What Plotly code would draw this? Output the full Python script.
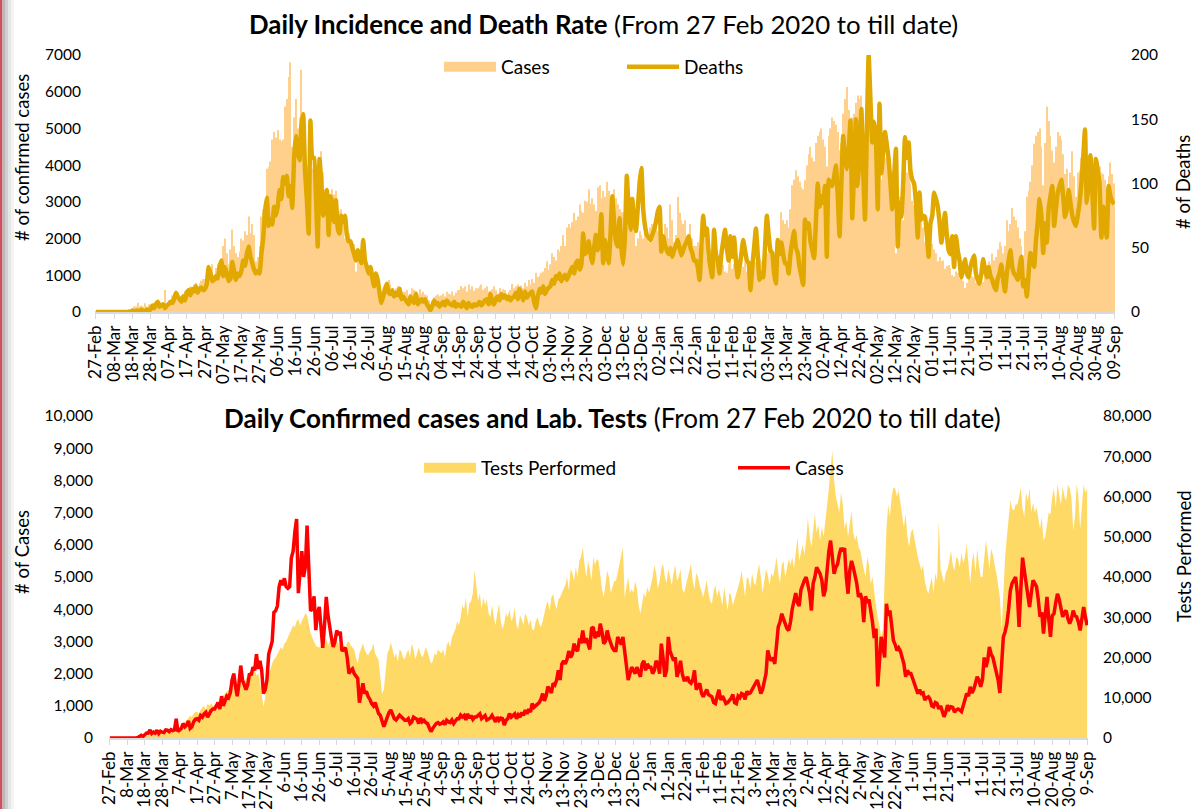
import pandas as pd
import plotly.graph_objects as go

# ---------------- data (daily, 27 Feb 2020 .. 9 Sep 2021) ----------------
dates = pd.date_range("2020-02-27", "2021-09-09", freq="D").strftime("%Y-%m-%d").tolist()

cases = [
    1, 0, 0, 0, 1, 0, 0, 0, 1, 0,
    0, 2, 3, 1, 5, 7, 14, 53, 81, 50,
    110, 154, 150, 250, 140, 180, 150, 240, 140, 210,
    180, 170, 250, 240, 200, 260, 230, 250, 600, 200,
    250, 300, 450, 350, 400, 530, 300, 350, 500, 580,
    600, 550, 700, 650, 750, 800, 650, 780, 850, 900,
    900, 1000, 1100, 900, 1300, 1000, 1200, 1300, 1250, 1400,
    1800, 2000, 1600, 1300, 1700, 2250, 1800, 1600, 1500, 1650,
    2000, 1950, 2200, 2100, 2600, 2150, 2400, 2100, 1380, 1500,
    1800, 2600, 2800, 3000, 3900, 3950, 4100, 4700, 4900, 4750,
    4960, 4700, 4650, 4700, 5600, 5800, 6400, 6800, 4500, 5300,
    5800, 5000, 5300, 6600, 5200, 3950, 4000, 4400, 3350, 3900,
    4070, 3400, 2800, 3500, 4380, 3800, 3340, 3100, 2830, 3000,
    3340, 3200, 3300, 2700, 2750, 2800, 2500, 2000, 2100, 2150,
    2000, 1900, 1850, 1100, 1500, 1700, 1380, 1450, 1280, 1200,
    1070, 1000, 1100, 900, 760, 700, 560, 350, 500, 700,
    800, 870, 750, 600, 560, 650, 710, 660, 600, 550,
    550, 600, 450, 500, 650, 600, 580, 450, 620, 500,
    550, 480, 450, 320, 200, 300, 400, 450, 480, 430,
    450, 500, 420, 550, 500, 480, 560, 450, 530, 600,
    600, 710, 650, 700, 560, 750, 620, 700, 580, 650,
    650, 700, 750, 600, 650, 700, 560, 580, 620, 700,
    600, 500, 650, 550, 620, 600, 400, 550, 600, 760,
    650, 700, 750, 600, 720, 650, 800, 700, 870, 750,
    900, 800, 1070, 950, 1000, 1070, 1100, 1200, 1380, 1150,
    1300, 1600, 1500, 1400, 1700, 1650, 1800, 2100, 1800, 2300,
    2400, 2300, 2450, 2700, 2500, 2600, 2930, 2750, 2700, 3030,
    3000, 3340, 2950, 3100, 2930, 2750, 3400, 3450, 3100, 3300,
    3140, 3550, 3300, 2930, 3000, 3340, 3100, 2930, 2800, 2720,
    2720, 3140, 3000, 2900, 3140, 2700, 2400, 1800, 2000, 2200,
    2100, 2000, 2200, 2050, 1900, 2300, 2400, 2100, 2300, 2200,
    2200, 2000, 2100, 2400, 2300, 2000, 2930, 2500, 1900, 2100,
    3140, 2700, 2500, 2400, 2500, 1900, 2100, 2400, 2000, 1800,
    1800, 1900, 1750, 1700, 1800, 2100, 1500, 1600, 1700, 1400,
    1280, 1400, 1500, 1350, 1300, 1280, 1100, 1070, 1300, 1500,
    1180, 1300, 1200, 1070, 1100, 1150, 1230, 1350, 1100, 1070,
    1300, 1250, 1380, 1350, 1200, 1450, 1380, 1400, 1500, 1600,
    1700, 1800, 1600, 1380, 1500, 1700, 2000, 2720, 2500, 2400,
    2500, 2300, 2800, 3450, 3600, 3860, 3700, 3550, 3400, 3340,
    3600, 4000, 4300, 4500, 4200, 4100, 4600, 4800, 4900, 5000,
    4700, 4500, 3960, 4800, 5000, 5300, 5200, 5100, 4900, 4400,
    4600, 5400, 5800, 6130, 5500, 5100, 5300, 5400, 5700, 5900,
    5800, 5900, 5000, 4480, 5200, 5500, 5300, 5100, 4800, 4380,
    4500, 4300, 3600, 4400, 4200, 4300, 4000, 3600, 3100, 3400,
    1600, 2500, 3140, 2800, 2500, 4170, 3800, 3960, 3500, 3030,
    2900, 2720, 2800, 2700, 2500, 2300, 1900, 2100, 2000, 2000,
    1850, 1700, 1600, 1380, 1500, 1380, 1400, 1180, 1250, 1280,
    1200, 1000, 970, 1100, 1070, 900, 1000, 850, 660, 800,
    1020, 900, 970, 950, 800, 870, 900, 870, 820, 1000,
    1200, 1380, 1300, 1590, 1400, 1500, 1700, 1900, 1800, 1590,
    1800, 2500, 2200, 2400, 2830, 2600, 2500, 2300, 2000, 1800,
    1400, 2200, 3140, 3300, 3550, 4000, 4580, 4800, 4900, 5000,
    4500, 3450, 4600, 5600, 5200, 4800, 4400, 4070, 4500, 4900,
    4800, 4700, 4300, 3760, 3900, 3240, 3800, 4380, 3700, 3140,
    3800, 3860, 4200, 4480, 4300, 4070, 3760, 3900, 3960, 3700,
    3550, 3700, 3960, 3800, 3760, 3600, 3340, 3700, 4070, 3760,
    3500,
]

deaths = [
    0, 0, 0, 0, 0, 0, 0, 0, 0, 0,
    0, 0, 0, 0, 0, 0, 0, 0, 0, 0,
    1, 0, 1, 1, 0, 2, 1, 0, 2, 1,
    2, 5, 3, 6, 8, 4, 5, 6, 3, 5,
    6, 8, 7, 10, 15, 12, 10, 8, 12, 9,
    15, 17, 13, 18, 16, 20, 15, 18, 19, 17,
    18, 22, 35, 30, 24, 25, 28, 26, 35, 40,
    28, 35, 30, 24, 26, 39, 32, 25, 30, 28,
    32, 40, 36, 45, 51, 43, 38, 33, 30, 32,
    30, 45, 57, 78, 89, 67, 72, 68, 82, 75,
    82, 95, 88, 105, 100, 106, 90, 98, 81, 120,
    137, 125, 118, 145, 154, 110, 88, 61, 149, 120,
    120, 90, 51, 119, 100, 75, 85, 95, 60, 90,
    85, 70, 87, 65, 61, 75, 70, 75, 60, 55,
    55, 50, 45, 40, 48, 42, 38, 56, 40, 35,
    30, 35, 27, 20, 30, 25, 15, 7, 12, 18,
    22, 15, 14, 17, 12, 15, 13, 18, 10, 12,
    10, 8, 6, 12, 9, 7, 14, 6, 8, 10,
    8, 10, 6, 4, 1, 5, 9, 6, 7, 4,
    6, 8, 5, 9, 7, 6, 5, 8, 4, 6,
    5, 4, 8, 6, 3, 7, 5, 4, 6, 5,
    6, 8, 5, 7, 9, 10, 6, 14, 8, 6,
    10, 12, 9, 14, 11, 13, 10, 12, 9, 11,
    12, 15, 10, 18, 14, 9, 16, 11, 13, 15,
    16, 8, 3, 12, 18, 15, 20, 14, 17, 19,
    20, 25, 22, 28, 26, 30, 24, 27, 29, 25,
    28, 32, 35, 30, 38, 40, 33, 37, 61, 45,
    48, 55, 45, 38, 50, 60, 48, 55, 76, 38,
    56, 45, 38, 60, 90, 70, 55, 51, 73, 50,
    37, 60, 106, 80, 64, 88, 70, 63, 80, 100,
    112, 80, 67, 60, 58, 56, 60, 64, 70, 78,
    82, 47, 59, 52, 48, 45, 50, 43, 48, 52,
    56, 50, 44, 48, 52, 55, 59, 50, 46, 40,
    40, 35, 25, 50, 75, 60, 65, 45, 35, 27,
    64, 45, 40, 30, 45, 55, 64, 50, 40, 59,
    43, 58, 40, 27, 35, 45, 56, 48, 40, 38,
    17, 35, 50, 65, 45, 25, 30, 27, 50, 75,
    60, 48, 46, 30, 22, 56, 45, 54, 45, 38,
    38, 30, 45, 55, 63, 50, 46, 35, 28, 21,
    72, 65, 69, 55, 48, 42, 70, 100, 82, 90,
    85, 98, 43, 103, 100, 98, 105, 114, 90, 59,
    100, 137, 120, 111, 125, 149, 73, 110, 150, 98,
    120, 158, 110, 72, 140, 200, 165, 132, 148, 135,
    80, 162, 108, 125, 140, 130, 119, 100, 80, 105,
    127, 51, 85, 74, 100, 136, 120, 132, 110, 103,
    100, 85, 58, 93, 72, 75, 74, 60, 43, 69,
    75, 93, 88, 82, 70, 54, 65, 77, 60, 48,
    45, 59, 35, 59, 48, 40, 27, 35, 41, 30,
    27, 35, 40, 44, 30, 25, 22, 30, 41, 33,
    27, 35, 28, 25, 20, 17, 26, 30, 37, 25,
    16, 30, 40, 48, 35, 30, 28, 25, 35, 43,
    20, 25, 12, 30, 46, 40, 35, 55, 70, 88,
    75, 46, 69, 54, 80, 90, 98, 67, 80, 93,
    98, 103, 90, 74, 80, 95, 85, 75, 70, 67,
    75, 85, 100, 120, 142, 85, 100, 122, 95, 65,
    119, 110, 100, 58, 82, 70, 58, 98, 90, 86,
    84,
]

tests = [
    20, 15, 30, 25, 40, 30, 35, 50, 40, 60,
    60, 80, 90, 100, 120, 150, 200, 300, 400, 450,
    500, 600, 700, 700, 800, 900, 1000, 900, 1100, 1200,
    1200, 1300, 1500, 1400, 1600, 2000, 2100, 2300, 2500, 2400,
    3000, 3500, 4000, 3800, 4500, 5000, 5500, 5200, 6000, 6500,
    6500, 6000, 7000, 7500, 8000, 7000, 8500, 8000, 8600, 8000,
    8000, 8500, 9000, 9500, 10000, 10500, 11000, 11500, 12000, 11900,
    13000, 13500, 14000, 13500, 14500, 15000, 14000, 13500, 14800, 15200,
    15200, 16000, 16500, 16800, 15500, 16000, 14000, 11000, 7800, 10000,
    15000, 16000, 17000, 18500, 19500, 20000, 21000, 22000, 22600, 22000,
    23500, 24000, 25000, 26000, 27000, 28000, 27500, 29000, 29500, 28000,
    29000, 30000, 31000, 30500, 28000, 26000, 25000, 24000, 23000, 22600,
    22500, 23000, 24000, 25000, 24500, 23000, 24000, 25000, 24000, 23500,
    24000, 23500, 22600, 24300, 23000, 22500, 23800, 24000, 23000, 22600,
    22000, 20000, 18500, 21000, 22600, 23500, 22000, 21000, 20500, 21500,
    22000, 23500, 21000, 20000, 19300, 15000, 11000, 12000, 16000, 21000,
    22000, 23800, 22000, 20000, 21000, 19000, 22000, 21500, 20000, 19500,
    21000, 22000, 20000, 23500, 22000, 19500, 21000, 22500, 21000, 20000,
    21000, 22600, 21500, 20000, 18500, 19000, 21000, 20500, 22000, 21500,
    21000, 22000, 20000, 23000, 24000, 22500, 25000, 26000, 27000, 29000,
    28000, 30000, 33000, 32000, 35000, 30000, 33500, 34000, 36000, 41600,
    38000, 34000, 36000, 32000, 35000, 33000, 34500, 31000, 30000, 33000,
    30000, 28000, 31000, 33400, 29000, 27000, 28500, 31000, 30000, 32000,
    29000, 30000, 32500, 28000, 27000, 30500, 29500, 28000, 31000, 30000,
    28000, 29500, 27000, 26800, 29000, 30000, 28500, 27500, 29000, 31000,
    33000, 34000, 31700, 35000, 35800, 33500, 32000, 34500, 35000, 36000,
    37000, 38000, 40000, 36700, 42000, 41000, 39000, 42500, 40000, 44000,
    45000, 47400, 43000, 40000, 44000, 42000, 39000, 45000, 43000, 44500,
    44000, 40000, 37000, 35000, 38000, 41600, 40000, 36000, 37500, 39000,
    39000, 41000, 43000, 45000, 47400, 35000, 38000, 40000, 36000, 37000,
    36000, 39000, 37000, 33000, 30900, 34000, 36000, 35000, 37500, 36000,
    38000, 40000, 43000, 41000, 37000, 39000, 42000, 43300, 40000, 38500,
    42000, 40000, 38000, 41000, 43000, 39000, 40000, 42000, 37000, 36000,
    38000, 40000, 42000, 43300, 39000, 37000, 41000, 40000, 38000, 36700,
    35000, 37000, 39200, 36000, 34000, 33400, 36500, 38000, 35000, 37000,
    35000, 33000, 37500, 34000, 31700, 36000, 35500, 33000, 34500, 36000,
    37000, 39000, 41600, 38000, 35000, 40000, 39500, 37000, 41000, 38500,
    38000, 41000, 43300, 40000, 36000, 39000, 42000, 40500, 38000, 41000,
    40000, 42000, 45000, 41000, 38300, 43000, 44000, 40000, 42500, 44500,
    43000, 45000, 42000, 47000, 49900, 44000, 46000, 48000, 45500, 49000,
    54800, 50000, 47400, 52000, 55700, 51000, 53000, 49000, 52500, 50000,
    55000, 58000, 62000, 66000, 71400, 64000, 60000, 58000, 56000, 61000,
    58000, 52000, 54000, 50000, 53000, 56500, 51000, 49000, 50500, 47400,
    46600, 44000, 42000, 40000, 45000, 43000, 38300, 40000, 36000, 33000,
    30000, 28000, 25000, 27000, 40000, 52000, 58000, 55000, 60000, 62300,
    62000, 60000, 61500, 58000, 55000, 52400, 55700, 50000, 47400, 51000,
    52000, 50000, 47400, 45000, 43000, 41600, 43000, 39000, 37000, 35800,
    38000, 40000, 36000, 41000, 39000, 54000, 42000, 40000, 38500, 41000,
    42000, 44000, 46600, 43000, 41600, 45000, 44500, 42500, 46000, 43500,
    45000, 48200, 42000, 38300, 44000, 46000, 41000, 47000, 43000, 40000,
    40000, 44000, 49000, 46000, 42000, 47000, 45500, 43000, 41000, 38000,
    35000, 26800, 38000, 45000, 49900, 55000, 59000, 57000, 56500, 58000,
    58000, 60000, 62300, 57000, 55000, 61000, 59000, 62000, 56000, 58500,
    56000, 57300, 54000, 52000, 55000, 49000, 50000, 53000, 56000, 55500,
    60000, 62000, 57300, 63100, 61000, 58000, 62500, 60000, 59000, 63000,
    62000, 60000, 51500, 55000, 63100, 60000, 52000, 58000, 63000, 61000,
    62000,
]

top_ticks = ["27-Feb", "08-Mar", "18-Mar", "28-Mar", "07-Apr", "17-Apr", "27-Apr", "07-May",
             "17-May", "27-May", "06-Jun", "16-Jun", "26-Jun", "06-Jul", "16-Jul", "26-Jul",
             "05-Aug", "15-Aug", "25-Aug", "04-Sep", "14-Sep", "24-Sep", "04-Oct", "14-Oct",
             "24-Oct", "03-Nov", "13-Nov", "23-Nov", "03-Dec", "13-Dec", "23-Dec", "02-Jan",
             "12-Jan", "22-Jan", "01-Feb", "11-Feb", "21-Feb", "03-Mar", "13-Mar", "23-Mar",
             "02-Apr", "12-Apr", "22-Apr", "02-May", "12-May", "22-May", "01-Jun", "11-Jun",
             "21-Jun", "01-Jul", "11-Jul", "21-Jul", "31-Jul", "10-Aug", "20-Aug", "30-Aug",
             "09-Sep"]
bottom_ticks = [t[1:] if t.startswith("0") else t for t in top_ticks]
tick_dates = dates[::10]

# ---------------- figure ----------------
W, H = 1196, 809
FONT = "Lato, 'Open Sans', sans-serif"
BAR_COLOR = "#FFD08C"
DEATH_COLOR = "#E1A900"
TEST_COLOR = "#FFD966"
CASE_LINE = "#FF0000"


def fx(p):
    return p / W


def fy(p):
    return 1 - p / H


x_range = [(pd.Timestamp(dates[0]) - pd.Timedelta(hours=12)).isoformat(),
           (pd.Timestamp(dates[-1]) + pd.Timedelta(hours=12)).isoformat()]

fig = go.Figure()
# top chart
fig.add_trace(go.Bar(x=dates, y=cases, name="Cases", xaxis="x", yaxis="y", showlegend=False,
                     marker=dict(color=BAR_COLOR, line=dict(width=0))))
fig.add_trace(go.Scatter(x=[None], y=[None], name="Cases", mode="lines", xaxis="x", yaxis="y",
                         line=dict(color=BAR_COLOR, width=12), legend="legend"))
fig.add_trace(go.Scatter(x=dates, y=deaths, name="Deaths", mode="lines", xaxis="x", yaxis="y2",
                         line=dict(color=DEATH_COLOR, width=4.5, shape="spline", smoothing=0.4),
                         legend="legend"))
# bottom chart
fig.add_trace(go.Scatter(x=dates, y=tests, name="Tests Performed", mode="lines", xaxis="x2", yaxis="y3",
                         line=dict(width=0, color=TEST_COLOR), fill="tozeroy", fillcolor=TEST_COLOR,
                         showlegend=False))
fig.add_trace(go.Scatter(x=[None], y=[None], name="Tests Performed", mode="lines", xaxis="x2", yaxis="y3",
                         line=dict(color=TEST_COLOR, width=12), legend="legend2"))
fig.add_trace(go.Scatter(x=dates, y=cases, name="Cases", mode="lines", xaxis="x2", yaxis="y4",
                         line=dict(color=CASE_LINE, width=3.5), legend="legend2"))

xcommon = dict(type="date", range=x_range, tickmode="array", tickangle=-90, automargin=False,
               ticks="outside", ticklen=5, tickcolor="#D9D9D9", showline=True, linecolor="#D9D9D9",
               linewidth=1.5, showgrid=False, zeroline=False,
               tickfont=dict(size=17, color="#000000", family=FONT))
ycommon = dict(showgrid=False, zeroline=False, showline=False, ticks="", automargin=False,
               tickfont=dict(size=15.5, color="#000000", family=FONT))

fig.update_layout(
    width=W, height=H,
    margin=dict(l=0, r=0, t=0, b=0),
    paper_bgcolor="white", plot_bgcolor="rgba(0,0,0,0)",
    font=dict(family=FONT, color="#000000"),
    bargap=0.45,
    showlegend=True,
    xaxis=dict(domain=[fx(95), fx(1115)], anchor="y", tickvals=tick_dates, ticktext=top_ticks, **xcommon),
    yaxis=dict(domain=[fy(312), fy(55)], anchor="x", range=[0, 7000], dtick=1000,
               ticklabelstandoff=13, **ycommon),
    yaxis2=dict(overlaying="y", anchor="x", side="right", range=[0, 200], dtick=50,
                ticklabelstandoff=15, **ycommon),
    xaxis2=dict(domain=[fx(109), fx(1088)], anchor="y3", tickvals=tick_dates, ticktext=bottom_ticks,
                **xcommon),
    yaxis3=dict(domain=[fy(738), fy(416)], anchor="x2", side="right", range=[0, 80000], dtick=10000,
                tickformat=",", ticklabelstandoff=14, **ycommon),
    yaxis4=dict(overlaying="y3", anchor="x2", side="left", range=[0, 10000], dtick=1000,
                tickformat=",", ticklabelstandoff=15, **ycommon),
    legend=dict(orientation="h", x=fx(439), y=fy(67), xanchor="left", yanchor="middle",
                bgcolor="rgba(0,0,0,0)", font=dict(size=19, family=FONT),
                entrywidth=116, entrywidthmode="pixels", itemwidth=52),
    legend2=dict(orientation="h", x=fx(419), y=fy(468), xanchor="left", yanchor="middle",
                 bgcolor="rgba(0,0,0,0)", font=dict(size=19, family=FONT),
                 entrywidth=247, entrywidthmode="pixels", itemwidth=52),
)

annotations = [
    dict(text="<b>Daily Incidence and Death Rate</b> (From 27 Feb 2020 to till date)",
         x=fx(603), y=fy(24), font=dict(size=25.8)),
    dict(text="<b>Daily Confirmed cases and Lab. Tests</b> (From 27 Feb 2020 to till date)",
         x=fx(612), y=fy(418), font=dict(size=26)),
    dict(text="# of confirmed cases", x=fx(22), y=fy(158), textangle=-90, font=dict(size=18.5)),
    dict(text="# of Deaths", x=fx(1183), y=fy(182), textangle=-90, font=dict(size=18.5)),
    dict(text="# of Cases", x=fx(22), y=fy(552), textangle=-90, font=dict(size=18.5)),
    dict(text="Tests Performed", x=fx(1184), y=fy(556), textangle=-90, font=dict(size=18.5)),
]
for a in annotations:
    a.update(xref="paper", yref="paper", showarrow=False, xanchor="center", yanchor="middle")
    a["font"].update(family=FONT, color="#000000")
fig.update_layout(annotations=annotations)

# slide edge decoration on the left
edge = [(0, 2.5, "#D2505E"), (2.5, 5, "#B8B8B8"), (5, 8, "#D0D0D0"), (8, 11, "#E6E6E6"), (11, 14, "#F4F4F4")]
fig.update_layout(shapes=[dict(type="rect", xref="paper", yref="paper", x0=fx(a), x1=fx(b), y0=0, y1=1,
                               fillcolor=c, line=dict(width=0), layer="below") for a, b, c in edge])

fig.write_html("out.html", config={"displayModeBar": False},
               post_script="document.body.style.margin='0px';document.body.style.overflow='hidden';")
